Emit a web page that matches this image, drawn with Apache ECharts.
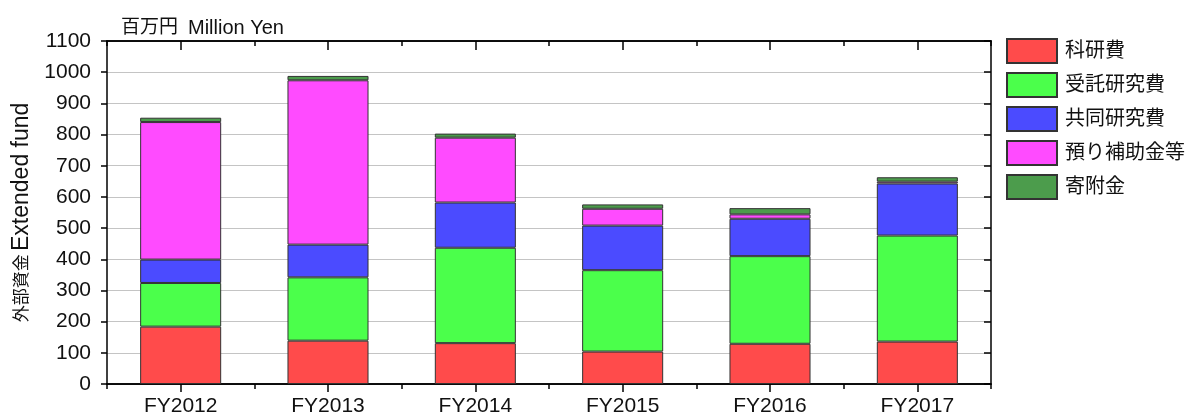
<!DOCTYPE html>
<html>
<head>
<meta charset="utf-8">
<script src="https://cdn.jsdelivr.net/npm/echarts@6/dist/echarts.min.js"></script>
<style>
  html, body { margin: 0; padding: 0; background: #fff; }
  #chart { width: 1192px; height: 419px; }
</style>
</head>
<body>
<div id="chart"></div>
<script>
// categories and values (百万円)
const years = ['FY2012', 'FY2013', 'FY2014', 'FY2015', 'FY2016', 'FY2017']
const kakenhi = [184, 139, 131, 104, 129, 136]      // 科研費
const jutaku = [140, 203, 306, 261, 281, 340]       // 受託研究費
const kyodo = [75, 105, 145, 143, 120, 167]         // 共同研究費
const azukari = [441, 527, 208, 54, 14, 6]          // 預り補助金等
const kifu = [14, 14, 13, 14, 20, 14]               // 寄附金

const names = ['科研費', '受託研究費', '共同研究費', '預り補助金等', '寄附金']
const colors = ['#ff4b4b', '#4bff4b', '#4b4bff', '#ff4bff', '#4c9c4c']
const values = [kakenhi, jutaku, kyodo, azukari, kifu]

const font = 'Liberation Sans, Arial, sans-serif'
const cjk = 'Liberation Sans, Noto Sans CJK JP, sans-serif'

let myChart = echarts.init(document.getElementById('chart'))

const tickStyle = { color: '#000', width: 1.5 }
const xBase = {
  type: 'category',
  data: years,
  axisLine: { onZero: false, lineStyle: { color: '#000', width: 1.5 } },
  splitLine: { show: false }
}

let option = {
  animation: false,
  textStyle: { fontFamily: font },
  grid: { left: 107, right: 201, top: 41, bottom: 35 },
  title: {
    text: '{a|百万円}  {b|Million Yen}',
    left: 116, top: 13,
    textStyle: {
      fontWeight: 'normal', color: '#111',
      rich: {
        a: { fontFamily: cjk, fontSize: 19, color: '#111' },
        b: { fontFamily: font, fontSize: 20, color: '#111' }
      }
    }
  },
  legend: {
    orient: 'vertical',
    left: 1001, top: 33,
    itemWidth: 50, itemHeight: 24, itemGap: 8,
    icon: 'rect',
    textStyle: { fontFamily: cjk, fontSize: 20, color: '#111', padding: [0, 0, 0, 3] },
    data: names
  },
  xAxis: [
    Object.assign({}, xBase, {
      position: 'bottom',
      axisTick: { show: true, alignWithLabel: true, length: 8, lineStyle: tickStyle },
      axisLabel: { fontSize: 21, color: '#111', margin: 12, fontFamily: font }
    }),
    Object.assign({}, xBase, {
      position: 'top',
      axisTick: { show: true, alignWithLabel: true, inside: true, length: 9, lineStyle: tickStyle },
      axisLabel: { show: false }
    }),
    Object.assign({}, xBase, {
      position: 'top',
      axisTick: { show: true, inside: true, length: 5, lineStyle: tickStyle },
      axisLabel: { show: false }
    }),
    Object.assign({}, xBase, {
      position: 'bottom',
      axisTick: { show: true, length: 5, lineStyle: tickStyle },
      axisLabel: { show: false }
    })
  ],
  yAxis: [
    {
      type: 'value',
      min: 0, max: 1100, interval: 100,
      position: 'left',
      name: '{a|外部資金} {b|Extended fund}',
      nameLocation: 'middle',
      nameGap: 70,
      nameTextStyle: {
        color: '#111',
        rich: {
          a: { fontFamily: cjk, fontSize: 17, color: '#111' },
          b: { fontFamily: font, fontSize: 23, color: '#111' }
        }
      },
      axisLine: { show: true, lineStyle: { color: '#000', width: 1.5 } },
      axisTick: { show: true, length: 6, lineStyle: tickStyle },
      axisLabel: {
        fontSize: 21, color: '#111', margin: 16, fontFamily: font,
        formatter: v => String(v)
      },
      splitLine: { show: true, lineStyle: { color: '#c4c4c4', width: 1.2 } }
    },
    {
      type: 'value',
      min: 0, max: 1100, interval: 100,
      position: 'right',
      axisLine: { show: true, lineStyle: { color: '#000', width: 1.5 } },
      axisTick: { show: true, inside: true, length: 7, lineStyle: tickStyle },
      axisLabel: { show: false },
      splitLine: { show: false }
    }
  ],
  series: names.map((n, i) => ({
    name: n,
    type: 'bar',
    stack: 'total',
    barWidth: '55%',
    data: values[i],
    itemStyle: { color: colors[i], borderColor: '#333', borderWidth: 1 }
  }))
}
myChart.setOption(option)
</script>
</body>
</html>
